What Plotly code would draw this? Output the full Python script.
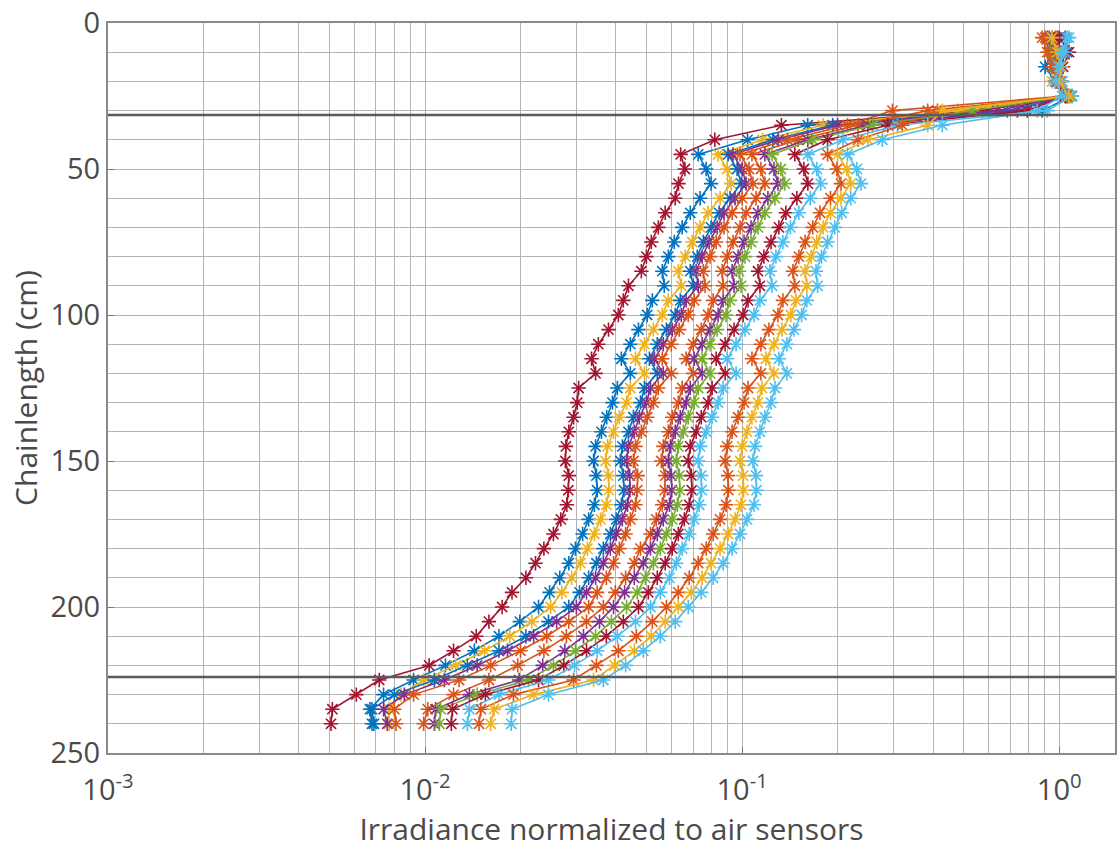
import plotly.graph_objects as go

# Depth along the chain (cm)
depth = list(range(5, 245, 5))

# Irradiance normalized to the air sensors, one list per sensor string
s1 = [0.95, 0.985, 0.97, 1.00, 1.05, 0.572, 0.133, 0.082, 0.064, 0.066, 0.063,
      0.0615, 0.0572, 0.0544, 0.0517, 0.0499, 0.0481, 0.0438, 0.0422, 0.0407, 0.0379,
      0.0352, 0.0335, 0.0345, 0.0305, 0.0302, 0.0294, 0.0284, 0.0278, 0.0277,
      0.0284, 0.0283, 0.0280, 0.0268, 0.0254, 0.0237, 0.0223, 0.0208, 0.0188, 0.0175,
      0.0159, 0.0145, 0.0123, 0.0103, 0.00717, 0.00607, 0.00510, 0.00505]
s2 = [0.917, 0.949, 0.903, 0.971, 1.074, 0.686, 0.161, 0.104, 0.0727, 0.0770, 0.0798,
      0.0737, 0.0686, 0.0647, 0.0611, 0.0585, 0.0560, 0.0568, 0.0521, 0.0502, 0.0471,
      0.0444, 0.0416, 0.0444, 0.0404, 0.0390, 0.0374, 0.0360, 0.0345, 0.0340,
      0.0347, 0.0349, 0.0342, 0.0328, 0.0314, 0.0298, 0.0284, 0.0266, 0.0247, 0.0228,
      0.0199, 0.0171, 0.0143, 0.0116, 0.0092, 0.0074, 0.0067, 0.0068]
s3 = [1.000, 0.971, 0.985, 0.949, 1.059, 0.478, 0.180, 0.116, 0.084, 0.0897, 0.0923,
      0.0852, 0.0781, 0.0737, 0.0696, 0.0662, 0.0629, 0.0643, 0.0585, 0.0560, 0.0525,
      0.0492, 0.0461, 0.0492, 0.0444, 0.0432, 0.0410, 0.0393, 0.0376, 0.0371,
      0.0379, 0.0380, 0.0373, 0.0358, 0.0342, 0.0325, 0.0309, 0.0290, 0.0270, 0.0249,
      0.0217, 0.0185, 0.0154, 0.0125, 0.0099, 0.0084, 0.0077, 0.0077]
s4 = [1.044, 1.059, 1.000, 1.021, 1.097, 0.883, 0.193, 0.125, 0.0903, 0.0964, 0.0993,
      0.0916, 0.0846, 0.0798, 0.0754, 0.0722, 0.0686, 0.0701, 0.0638, 0.0615, 0.0577,
      0.0540, 0.0510, 0.0540, 0.0492, 0.0478, 0.0454, 0.0438, 0.0419, 0.0413,
      0.0422, 0.0424, 0.0416, 0.0401, 0.0384, 0.0365, 0.0347, 0.0328, 0.0307, 0.0284,
      0.0245, 0.0208, 0.0171, 0.0136, 0.0107, 0.0080, 0.0068, 0.0069]
s5 = [0.930, 0.956, 0.985, 1.000, 1.059, 0.638, 0.200, 0.130, 0.0936, 0.1000, 0.1029,
      0.0950, 0.0877, 0.0834, 0.0787, 0.0748, 0.0716, 0.0727, 0.0666, 0.0643, 0.0602,
      0.0564, 0.0529, 0.0564, 0.0514, 0.0499, 0.0474, 0.0457, 0.0438, 0.0432,
      0.0442, 0.0443, 0.0435, 0.0419, 0.0401, 0.0384, 0.0365, 0.0345, 0.0323, 0.0300,
      0.0260, 0.0220, 0.0182, 0.0146, 0.0115, 0.0086, 0.0074, 0.0076]
s6 = [0.883, 0.917, 0.949, 0.985, 1.044, 0.298, 0.215, 0.139, 0.0985, 0.1051, 0.1082,
      0.1000, 0.0930, 0.0877, 0.0828, 0.0792, 0.0754, 0.0764, 0.0706, 0.0676, 0.0633,
      0.0598, 0.0560, 0.0598, 0.0544, 0.0525, 0.0502, 0.0481, 0.0461, 0.0454,
      0.0468, 0.0467, 0.0461, 0.0444, 0.0429, 0.0410, 0.0393, 0.0373, 0.0349, 0.0328,
      0.0284, 0.0242, 0.0200, 0.0161, 0.0128, 0.0092, 0.0080, 0.0081]
s7 = [0.971, 1.000, 0.963, 1.007, 1.074, 0.385, 0.232, 0.150, 0.1074, 0.1146, 0.1180,
      0.1106, 0.1029, 0.0985, 0.0936, 0.0897, 0.0865, 0.0871, 0.0810, 0.0781, 0.0743,
      0.0701, 0.0666, 0.0701, 0.0647, 0.0629, 0.0602, 0.0585, 0.0564, 0.0556,
      0.0572, 0.0570, 0.0560, 0.0536, 0.0514, 0.0478, 0.0457, 0.0429, 0.0398, 0.0365,
      0.0323, 0.0279, 0.0237, 0.0196, 0.0159, 0.0123, 0.0102, 0.0099]
s8 = [0.985, 1.021, 0.990, 0.971, 1.059, 0.738, 0.249, 0.161, 0.1180, 0.1260, 0.1297,
      0.1206, 0.1122, 0.1067, 0.1014, 0.0971, 0.0930, 0.0943, 0.0871, 0.0840, 0.0792,
      0.0748, 0.0706, 0.0748, 0.0686, 0.0666, 0.0638, 0.0615, 0.0594, 0.0585,
      0.0598, 0.0600, 0.0590, 0.0564, 0.0540, 0.0514, 0.0488, 0.0457, 0.0426, 0.0393,
      0.0355, 0.0316, 0.0276, 0.0235, 0.0198, 0.0138, 0.0108, 0.0107]
s9 = [0.949, 0.930, 0.971, 0.985, 1.082, 0.532, 0.258, 0.167, 0.1242, 0.1325, 0.1364,
      0.1269, 0.1180, 0.1122, 0.1067, 0.1021, 0.0978, 0.0992, 0.0916, 0.0890, 0.0834,
      0.0792, 0.0748, 0.0792, 0.0727, 0.0706, 0.0676, 0.0652, 0.0629, 0.0620,
      0.0634, 0.0636, 0.0625, 0.0602, 0.0577, 0.0552, 0.0525, 0.0495, 0.0467, 0.0432,
      0.0387, 0.0345, 0.0298, 0.0254, 0.0212, 0.0146, 0.0112, 0.0111]
s10 = [1.000, 1.074, 1.029, 0.985, 1.044, 0.793, 0.288, 0.186, 0.1466, 0.1566, 0.1612,
       0.1488, 0.1374, 0.1306, 0.1233, 0.1171, 0.1122, 0.1138, 0.1044, 0.1007, 0.0943,
       0.0884, 0.0828, 0.0884, 0.0804, 0.0781, 0.0743, 0.0716, 0.0686, 0.0676,
       0.0692, 0.0694, 0.0681, 0.0657, 0.0629, 0.0602, 0.0572, 0.0540, 0.0506, 0.0471,
       0.0422, 0.0373, 0.0323, 0.0274, 0.0228, 0.0155, 0.0122, 0.0121]
s11 = [1.074, 1.044, 1.000, 1.021, 1.097, 0.917, 0.309, 0.208, 0.161, 0.172, 0.177,
       0.164, 0.151, 0.142, 0.1345, 0.1278, 0.1224, 0.1242, 0.1138, 0.1090, 0.1021,
       0.0957, 0.0897, 0.0957, 0.0871, 0.0840, 0.0804, 0.0770, 0.0737, 0.0727,
       0.0743, 0.0745, 0.0732, 0.0706, 0.0681, 0.0647, 0.0620, 0.0590, 0.0552, 0.0514,
       0.0461, 0.0404, 0.0349, 0.0296, 0.0245, 0.0171, 0.0138, 0.0136]
s12 = [0.903, 0.930, 0.949, 0.985, 1.059, 0.413, 0.320, 0.232, 0.186, 0.199, 0.205,
       0.190, 0.176, 0.167, 0.158, 0.151, 0.1446, 0.1466, 0.1345, 0.1297, 0.1215,
       0.1146, 0.1074, 0.1146, 0.1044, 0.1014, 0.0971, 0.0930, 0.0897, 0.0884,
       0.0903, 0.0905, 0.0890, 0.0852, 0.0810, 0.0770, 0.0727, 0.0681, 0.0629, 0.0577,
       0.0521, 0.0464, 0.0407, 0.0347, 0.0294, 0.0190, 0.0150, 0.0148]
s13 = [0.949, 0.985, 1.014, 1.000, 1.074, 0.428, 0.385, 0.249, 0.200, 0.214, 0.220,
       0.205, 0.190, 0.180, 0.172, 0.165, 0.158, 0.160, 0.1478, 0.1424, 0.1335,
       0.1260, 0.1189, 0.1260, 0.1155, 0.1122, 0.1074, 0.1036, 0.1000, 0.0985,
       0.1007, 0.1010, 0.0992, 0.0950, 0.0903, 0.0852, 0.0798, 0.0748, 0.0691, 0.0629,
       0.0572, 0.0517, 0.0457, 0.0396, 0.0340, 0.0220, 0.0165, 0.0161]
s14 = [1.059, 1.021, 1.000, 0.971, 1.021, 0.853, 0.428, 0.277, 0.215, 0.230, 0.237,
       0.220, 0.206, 0.196, 0.186, 0.178, 0.171, 0.173, 0.160, 0.154, 0.1456,
       0.1384, 0.1306, 0.1384, 0.1269, 0.1233, 0.1180, 0.1138, 0.1098, 0.1082,
       0.1106, 0.1110, 0.1090, 0.1036, 0.0985, 0.0930, 0.0871, 0.0810, 0.0743, 0.0676,
       0.0615, 0.0552, 0.0488, 0.0429, 0.0365, 0.0245, 0.0188, 0.0187]

profiles = [s1, s2, s3, s4, s5, s6, s7, s8, s9, s10, s11, s12, s13, s14]
colors = ["#A2142F", "#0072BD", "#EDB120", "#0072BD", "#7E2F8E", "#D95319", "#D95319",
          "#7E2F8E", "#77AC30", "#A2142F", "#4DBEEE", "#D95319", "#EDB120", "#4DBEEE"]

# Depths of the water surface and of the bottom
surface_depth = 31.5
bottom_depth = 224

x_major = [1e-3, 1e-2, 1e-1, 1e0]
x_major_text = ["10<sup>-3</sup>", "10<sup>-2</sup>", "10<sup>-1</sup>", "10<sup>0</sup>"]
x_minor = [k * 10.0 ** e for e in range(-3, 1) for k in range(2, 10) if k * 10.0 ** e < 1.5]
y_major = [0, 50, 100, 150, 200, 250]

fig = go.Figure()
for vals, col in zip(profiles, colors):
    fig.add_trace(go.Scatter(
        x=vals, y=depth, mode="lines+markers",
        line=dict(color=col, width=1.6),
        marker=dict(symbol="asterisk-open", size=12, color=col, line=dict(color=col, width=1.6)),
        showlegend=False,
    ))

for d in (surface_depth, bottom_depth):
    fig.add_shape(type="line", xref="paper", x0=0, x1=1, yref="y", y0=d, y1=d,
                  line=dict(color="#5a5a5a", width=2.5), layer="above")

grid_col = "#b4b4b4"
text_col = "#4a4a4a"
font_family = "Open Sans, DejaVu Sans, sans-serif"
fig.update_xaxes(
    type="log", range=[-3, 0.176],
    tickvals=x_major, ticktext=x_major_text,
    showgrid=True, gridcolor=grid_col, gridwidth=1.3,
    minor=dict(tickvals=x_minor, showgrid=True, gridcolor=grid_col, gridwidth=1.3, ticks=""),
    ticks="inside", ticklen=6, tickcolor="#777",
    showline=True, linecolor="#8a8a8a", linewidth=2, mirror=True,
    zeroline=False,
    ticklabelstandoff=10,
    tickfont=dict(family=font_family, size=29, color=text_col),
    title=dict(text="Irradiance normalized to air sensors",
               font=dict(family=font_family, size=30, color=text_col), standoff=4),
)
fig.update_yaxes(
    range=[250, 0], tickvals=y_major,
    showgrid=True, gridcolor=grid_col, gridwidth=1.3,
    minor=dict(dtick=10, tick0=0, showgrid=True, gridcolor=grid_col, gridwidth=1.3, ticks=""),
    ticks="inside", ticklen=6, tickcolor="#777",
    showline=True, linecolor="#8a8a8a", linewidth=2, mirror=True,
    zeroline=False,
    tickfont=dict(family=font_family, size=29, color=text_col),
    title=dict(text="Chainlength (cm)",
               font=dict(family=font_family, size=30, color=text_col), standoff=4),
)
fig.update_layout(
    width=1119, height=850,
    margin=dict(l=108, r=2, t=23, b=97),
    paper_bgcolor="white", plot_bgcolor="white",
)

fig.write_html("out.html")
